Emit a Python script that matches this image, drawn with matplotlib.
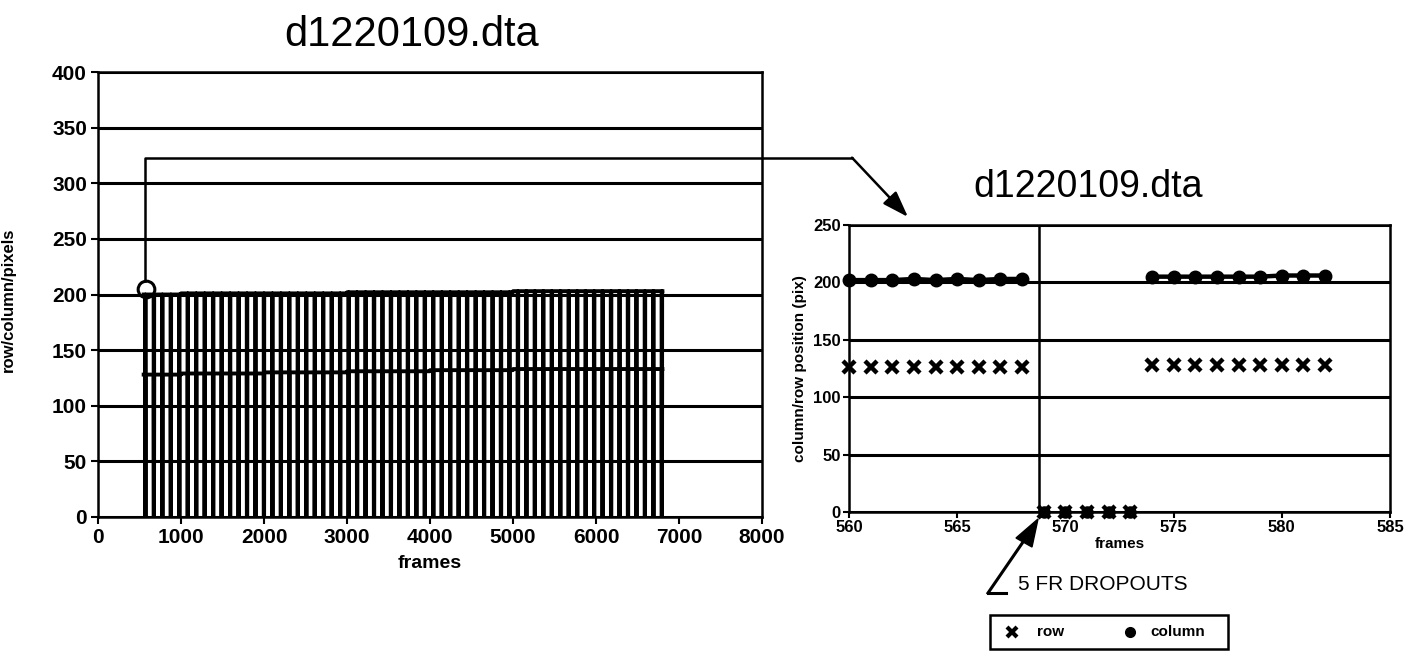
import numpy as np
import matplotlib.pyplot as plt

plt.rcParams['font.family'] = ['Liberation Sans', 'DejaVu Sans']

# ---- data ----
# overview plot: frames with 5-frame dropouts roughly every 100 frames
first_frame = 550
last_frame = 6800
dropout_starts = [569, 671, 773, 875, 977, 1079, 1181, 1283, 1385, 1487, 1589, 1691,
                  1793, 1895, 1997, 2099, 2201, 2303, 2405, 2507, 2609, 2711, 2813,
                  2915, 3017, 3119, 3221, 3323, 3425, 3527, 3629, 3731, 3833, 3935,
                  4037, 4139, 4241, 4343, 4445, 4547, 4649, 4751, 4853, 4955, 5057,
                  5159, 5261, 5363, 5465, 5567, 5669, 5771, 5873, 5975, 6077, 6179,
                  6281, 6383, 6485, 6587, 6689, 6791]
dropout_len = 5
block_edges = [0, 1000, 2000, 3000, 4000, 5000, 6000, 7000]
column_levels = [200, 201, 201, 202, 202, 203, 203]
row_levels = [128, 129, 130, 131, 132, 133, 133]

# zoomed plot: frames 560-582
zoom_frames = [560, 561, 562, 563, 564, 565, 566, 567, 568, 569, 570, 571,
               572, 573, 574, 575, 576, 577, 578, 579, 580, 581, 582]
zoom_row = [126, 126, 126, 126, 126, 126, 126, 126, 126, 0, 0, 0,
            0, 0, 128, 128, 128, 128, 128, 128, 128, 128, 128]
zoom_column = [202, 202, 202, 203, 202, 203, 202, 203, 203, 0, 0, 0,
               0, 0, 205, 205, 205, 205, 205, 205, 206, 206, 206]

title = "d1220109.dta"

# build the overview series from the levels and dropout list
frames = np.arange(first_frame, last_frame + 1)
blk = np.searchsorted(block_edges, frames, side='right') - 1
column = np.array(column_levels)[blk].astype(float)
row = np.array(row_levels)[blk].astype(float)
for d in dropout_starts:
    m = (frames >= d) & (frames < d + dropout_len)
    column[m] = 0
    row[m] = 0

W, H = 1419, 652
fig = plt.figure(figsize=(W / 100, H / 100), dpi=100)


def fx(px):
    return px / W


def fy(py):
    return 1 - py / H


# ---- left overview chart ----
ax1 = fig.add_axes([fx(98), fy(517), (762 - 98) / W, (517 - 72) / H])
ax1.plot(frames, column, color='black', lw=2.8)
ax1.plot(frames, row, color='black', lw=2.8)
ax1.set_xlim(0, 8000)
ax1.set_ylim(0, 400)
ax1.set_xticks(range(0, 8001, 1000))
ax1.set_yticks(range(0, 401, 50))
ax1.yaxis.grid(True, color='black', lw=2.2)
ax1.set_axisbelow(True)
for s in ax1.spines.values():
    s.set_linewidth(1.8)
ax1.tick_params(labelsize=15, width=1.5, length=5, direction='out', pad=3)
for lab in ax1.get_xticklabels() + ax1.get_yticklabels():
    lab.set_fontweight('bold')
ax1.set_xlabel("frames", fontsize=14, fontweight='bold', labelpad=6)
fig.text(fx(1), fy(300), "row/column/pixels", rotation=90, ha='left',
         va='center', fontsize=12, fontweight='bold')
fig.text(fx(412), fy(35), title, ha='center', va='center', fontsize=30)

# highlight of the zoomed region and connector to the right chart
ax1.plot([580], [205], marker='o', ms=12, mfc='none', mec='black', mew=2.2)
x_end = (852 - 98) / (762 - 98) * 8000
ax1.plot([565, 565, x_end], [212, 323, 323], color='black', lw=1.8, clip_on=False)
ax1.annotate("", xy=(fx(908), fy(217)), xycoords='figure fraction',
             xytext=(x_end, 323), textcoords='data',
             arrowprops=dict(arrowstyle='-|>,head_length=1.6,head_width=0.55',
                             color='black', lw=1.8, shrinkA=0, shrinkB=0))

# ---- right zoomed chart ----
ax2 = fig.add_axes([fx(849), fy(512), (1390 - 849) / W, (512 - 225) / H])
zf = np.array(zoom_frames)
zc = np.array(zoom_column, dtype=float)
zr = np.array(zoom_row, dtype=float)
ax2.plot(zf, np.where(zc > 0, zc, np.nan), color='black', lw=3.2,
         marker='o', ms=9, clip_on=False)
ax2.plot(zf[zc == 0], zc[zc == 0], ls='none', color='black', marker='o', ms=8,
         clip_on=False)
ax2.plot(zf, zr, ls='none', color='black', marker='x', ms=8.5, mew=3.2, clip_on=False)
ax2.axvline(568.8, color='black', lw=1.8)
ax2.set_xlim(560, 585)
ax2.set_ylim(0, 250)
ax2.set_xticks(range(560, 586, 5))
ax2.set_yticks(range(0, 251, 50))
ax2.yaxis.grid(True, color='black', lw=2.2)
ax2.set_axisbelow(True)
for s in ax2.spines.values():
    s.set_linewidth(1.8)
ax2.tick_params(labelsize=12, width=1.5, length=4, direction='out', pad=2)
for lab in ax2.get_xticklabels() + ax2.get_yticklabels():
    lab.set_fontweight('bold')
ax2.set_xlabel("frames", fontsize=11, fontweight='bold', labelpad=1)
ax2.set_ylabel("column/row position (pix)", fontsize=11, fontweight='bold', labelpad=4)
fig.text(fx(1088), fy(187), title, ha='center', va='center', fontsize=27)

# dropout note
fig.text(fx(1018), fy(585), "5 FR DROPOUTS", ha='left', va='center', fontsize=15)
fig.add_artist(plt.Line2D([fx(1006), fx(988)], [fy(593), fy(593)],
                          color='black', lw=2.2))
fig.add_artist(plt.Line2D([fx(988), fx(1034)], [fy(593), fy(526)],
                          color='black', lw=2.2))
fig.add_artist(plt.Polygon([[fx(1038), fy(519)], [fx(1016), fy(538)],
                            [fx(1032), fy(547)]], closed=True, color='black',
                           transform=fig.transFigure))

# legend box
fig.add_artist(plt.Rectangle((fx(990), fy(649)), (1228 - 990) / W, (649 - 615) / H,
                             transform=fig.transFigure, fill=False,
                             edgecolor='black', lw=1.8))
fig.add_artist(plt.Line2D([fx(1012)], [fy(632)], ls='none', color='black',
                          marker='x', ms=7, mew=3))
fig.add_artist(plt.Line2D([fx(1130)], [fy(632)], ls='none', color='black',
                          marker='o', ms=7))
fig.text(fx(1037), fy(632), "row", ha='left', va='center', fontsize=11,
         fontweight='bold')
fig.text(fx(1150), fy(632), "column", ha='left', va='center', fontsize=11,
         fontweight='bold')

fig.savefig("out.png", dpi=100)
